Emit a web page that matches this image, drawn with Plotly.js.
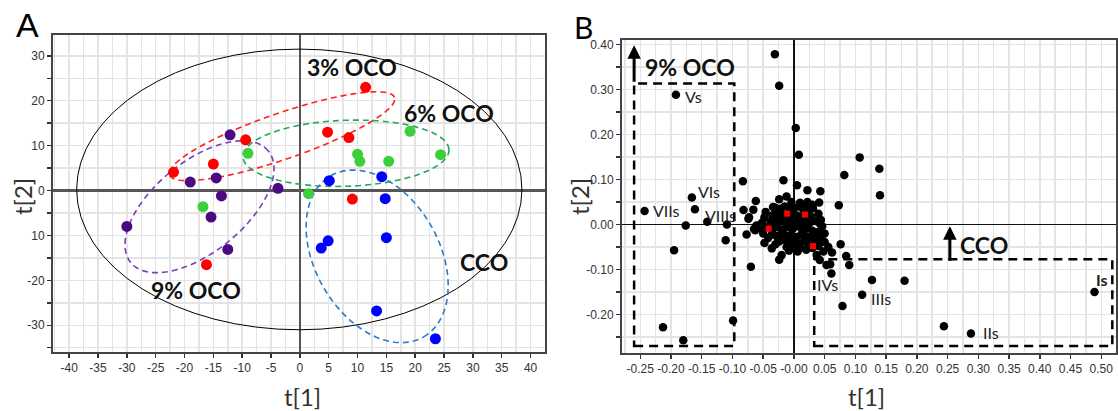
<!DOCTYPE html>
<html>
<head>
<meta charset="utf-8">
<script src="https://cdn.plot.ly/plotly-3.0.1.min.js"></script>
<style>
  html, body { margin: 0; padding: 0; background: #fff; }
  #chart { width: 1118px; height: 411px; }
</style>
</head>
<body>
<div id="chart"></div>
<script>
// ---- Panel A: score plot (t[1] vs t[2]) by oil group ----
const oco3X = [11.4, 4.8, 8.5, 9.1, -21.9, -15.0, -9.4, -16.2];
const oco3Y = [23.0, 13.0, 11.8, -1.9, 4.1, 5.9, 11.3, -16.5];
const oco6X = [19.1, 24.4, 10.0, 10.4, 15.4, 1.5, -9.0, -16.8];
const oco6Y = [13.2, 8.0, 8.1, 6.5, 6.5, -0.7, 8.3, -3.6];
const ccoX  = [5.1, 14.2, 14.8, 4.9, 3.7, 15.0, 13.3, 23.5];
const ccoY  = [2.2, 3.1, -1.8, -11.2, -12.8, -10.5, -26.8, -33.0];
const oco9X = [-12.1, -19.0, -14.5, -13.6, -15.4, -30.0, -12.5, -3.8];
const oco9Y = [12.4, 1.9, 2.8, -1.2, -5.9, -8.0, -13.1, 0.5];

const scoreXTicks = [-40, -35, -30, -25, -20, -15, -10, -5, 0, 5, 10, 15, 20, 25, 30, 35, 40];
const scoreXText  = ['-40','-35','-30','-25','-20','-15','-10','-5','0','5','10','15','20','25','30','35','40'];
const scoreYTicks = [-30, -20, -10, 0, 10, 20, 30];
const scoreYText  = ['-30', '-20', '10', '0', '10', '20', '30'];

// ---- Panel B: loading plot ----
const loadX = [
  -0.031, -0.024, 0.003, 0.008, -0.083, -0.017, 0.005, 0.022, 0.043, -0.062, -0.024, -0.012,
  0.022, 0.041, 0.073, 0.107, 0.082, 0.139, 0.140, -0.082, -0.066, -0.073, -0.109, -0.111,
  -0.077, -0.065, -0.048, -0.036, -0.020, -0.024, -0.070, -0.031, 0.018, 0.031, 0.042, 0.037,
  0.050, 0.076, 0.048, 0.085, 0.090, 0.127, 0.042, 0.053, 0.037, -0.141, -0.176, -0.195,
  -0.213, -0.180, -0.099, -0.061, 0.059, 0.180, 0.079, 0.244, -0.063, -0.074,
  -0.030, -0.022, -0.015, -0.008, 0.000, 0.008, 0.015, 0.024,
  -0.035, -0.027, -0.018, -0.010, -0.003, 0.005, 0.012, 0.020, 0.028,
  -0.038, -0.030, -0.022, -0.014, -0.006, 0.002, 0.010, 0.018, 0.026, 0.034,
  -0.044, -0.034, -0.026, -0.018, -0.010, -0.002, 0.006, 0.014, 0.022, 0.030,
  -0.036, -0.028, -0.020, -0.012, -0.004, 0.004, 0.012, 0.020, 0.028, 0.036,
  -0.024, -0.016, -0.008, 0.000, 0.008, 0.016, 0.024, 0.034,
  -0.012, -0.002, 0.010, 0.020, 0.030, 0.040,
  -0.048, -0.052, -0.056, -0.046, 0.040, 0.044, 0.046, 0.040,
  -0.034, -0.004, 0.010, 0.030, -0.050, -0.042, -0.030, 0.044, 0.050, 0.056, 0.062, 0.006, -0.008
];
const loadY = [
  0.378, 0.308, 0.214, 0.155, 0.096, 0.098, 0.087, 0.076, 0.074, 0.052, 0.056, 0.062,
  0.050, 0.049, 0.043, 0.149, 0.110, 0.124, 0.065, 0.032, 0.033, 0.016, 0.000, -0.035,
  -0.022, -0.010, -0.041, -0.053, -0.068, -0.078, -0.094, 0.038, 0.039, 0.036, 0.002, -0.022,
  -0.039, -0.044, -0.060, -0.070, -0.090, -0.123, -0.079, -0.090, -0.068, 0.006, -0.002, -0.057,
  -0.228, -0.257, -0.213, -0.002, -0.088, -0.125, -0.181, -0.226, -0.013, 0.013,
  0.030, 0.035, 0.040, 0.038, 0.036, 0.040, 0.034, 0.030,
  0.020, 0.016, 0.022, 0.018, 0.022, 0.020, 0.016, 0.012, 0.018,
  0.006, 0.002, 0.008, 0.004, 0.008, 0.004, 0.006, 0.000, 0.004, 0.008,
  -0.006, -0.010, -0.006, -0.012, -0.006, -0.010, -0.004, -0.012, -0.008, -0.014,
  -0.022, -0.026, -0.020, -0.026, -0.022, -0.028, -0.022, -0.026, -0.030, -0.024,
  -0.038, -0.034, -0.040, -0.036, -0.042, -0.038, -0.044, -0.040,
  -0.050, -0.048, -0.052, -0.056, -0.052, -0.048,
  0.016, 0.004, -0.008, 0.028, 0.024, 0.010, -0.004, -0.016,
  0.039, 0.050, 0.048, 0.044, -0.020, -0.030, -0.044, -0.030, -0.020, -0.050, -0.062, -0.060, -0.058
];
// named loadings
const namedLabels = ['<b>Is</b>', 'IIs', 'IIIs', 'IVs', 'Vs', 'VIs', 'VIIs', 'VIIIs'];
const namedX = [0.489, 0.288, 0.111, 0.061, -0.192, -0.166, -0.243, -0.161];
const namedY = [-0.150, -0.242, -0.156, -0.109, 0.288, 0.060, 0.030, 0.034];
// highlighted loadings (red squares)
const hiX = [-0.041, -0.011, 0.018, 0.031];
const hiY = [-0.009, 0.024, 0.022, -0.048];

const loadXTicks = [-0.25, -0.20, -0.15, -0.10, -0.05, 0, 0.05, 0.10, 0.15, 0.20, 0.25, 0.30, 0.35, 0.40, 0.45, 0.50];
const loadXText  = ['-0.25','-0.20','-0.15','-0.10','-0.05','-0.00','0.05','0.10','0.15','0.20','0.25','0.30','0.35','0.40','0.45','0.50'];
const loadYTicks = [-0.20, -0.10, 0, 0.10, 0.20, 0.30, 0.40];
const loadYText  = ['-0.20','-0.10','0.00','0.10','0.20','0.30','0.40'];

// ---- geometry ----
const W = 1118, H = 411;
const boxA = {l: 53, r: 545, t: 35, b: 352};
const boxB = {l: 622, r: 1116, t: 40, b: 353};
const rangeAX = [-42.8, 42.5], rangeAY = [-35.95, 34.64];
const rangeBX = [-0.2797, 0.524], rangeBY = [-0.2853, 0.4096];
const pxA = {
  x: (boxA.r - boxA.l) / (rangeAX[1] - rangeAX[0]),
  y: (boxA.b - boxA.t) / (rangeAY[1] - rangeAY[0])
};

// group ellipses: centre in data units, semi-axes in px, tilt in degrees
const groupEllipses = [
  {cx: -3.1, cy: 12.1, a: 119, b: 23, ang: 19, color: '#ff2020'},
  {cx: 8.0, cy: 8.3, a: 103, b: 33, ang: 2, color: '#1fa85a'},
  {cx: -17.4, cy: -3.6, a: 88.6, b: 45.3, ang: 39, color: '#7a3fb5'},
  {cx: 13.4, cy: -14.65, a: 93, b: 62, ang: -60, color: '#2a7ac8'}
];

function ellipsePath(e) {
  const th = e.ang * Math.PI / 180;
  let d = '';
  for (let i = 0; i <= 120; i++) {
    const t = 2 * Math.PI * i / 120;
    const dx = e.a * Math.cos(t) * Math.cos(th) - e.b * Math.sin(t) * Math.sin(th);
    const dy = e.a * Math.cos(t) * Math.sin(th) + e.b * Math.sin(t) * Math.cos(th);
    d += (i ? 'L' : 'M') + (e.cx + dx / pxA.x).toFixed(4) + ',' + (e.cy + dy / pxA.y).toFixed(4);
  }
  return d + 'Z';
}

const tickFont = {family: '"Liberation Sans Narrow", "Arial Narrow", "Liberation Sans", Arial, sans-serif', size: 12, color: '#333'};
const grid = '#e4e4e4';

const traces = [
  {x: oco3X, y: oco3Y, name: '3% OCO', type: 'scatter', mode: 'markers', xaxis: 'x', yaxis: 'y',
   marker: {color: '#ff0000', size: 11}},
  {x: oco6X, y: oco6Y, name: '6% OCO', type: 'scatter', mode: 'markers', xaxis: 'x', yaxis: 'y',
   marker: {color: '#3ccf3c', size: 11}},
  {x: ccoX, y: ccoY, name: 'CCO', type: 'scatter', mode: 'markers', xaxis: 'x', yaxis: 'y',
   marker: {color: '#0000ff', size: 11}},
  {x: oco9X, y: oco9Y, name: '9% OCO', type: 'scatter', mode: 'markers', xaxis: 'x', yaxis: 'y',
   marker: {color: '#4b0a82', size: 11}},
  {x: loadX, y: loadY, type: 'scatter', mode: 'markers', xaxis: 'x2', yaxis: 'y2',
   marker: {color: '#000', size: 8.5}},
  {x: namedX, y: namedY, type: 'scatter', mode: 'markers', xaxis: 'x2', yaxis: 'y2',
   marker: {color: '#000', size: 8.5}},
  {x: hiX, y: hiY, type: 'scatter', mode: 'markers', xaxis: 'x2', yaxis: 'y2',
   marker: {color: '#ff0000', size: 6, symbol: 'square'}}
];

const shapes = [
  // Hotelling ellipse
  {type: 'circle', xref: 'x', yref: 'y', x0: -38.7, x1: 38.5, y0: -31.0, y1: 31.5,
   line: {color: '#000', width: 1}, layer: 'between'}
];
groupEllipses.forEach(e => shapes.push({
  type: 'path', xref: 'x', yref: 'y', path: ellipsePath(e), layer: 'between',
  line: {color: e.color, width: 1.6, dash: '6px,4px'}
}));
// selection boxes on the loading plot
shapes.push({type: 'rect', xref: 'x2', yref: 'y2', x0: -0.260, x1: -0.097, y0: -0.270, y1: 0.313,
  line: {color: '#000', width: 2.5, dash: '9px,6px'}});
shapes.push({type: 'rect', xref: 'x2', yref: 'y2', x0: 0.033, x1: 0.518, y0: -0.270, y1: -0.077,
  line: {color: '#000', width: 2.5, dash: '9px,6px'}});

const labelFont = {family: 'Lato, "Open Sans", sans-serif', size: 23, color: '#111'};
const titleFont = {family: 'Lato, "Open Sans", sans-serif', size: 24, color: '#333'};
const pointFont = {family: 'Lato, "Open Sans", sans-serif', size: 16, color: '#222'};
function paperNote(text, px, py, font, extra) {
  return Object.assign({xref: 'paper', yref: 'paper', x: px / W, y: 1 - py / H,
    xanchor: 'center', yanchor: 'middle', showarrow: false, text: text, font: font}, extra || {});
}

// label placement next to each named loading (pixel offsets)
const namedPlacement = [
  {xanchor: 'left', xshift: 1, yshift: 13},
  {xanchor: 'left', xshift: 11, yshift: 1},
  {xanchor: 'left', xshift: 8, yshift: -4},
  {xanchor: 'center', xshift: -4, yshift: -11},
  {xanchor: 'left', xshift: 8, yshift: -2},
  {xanchor: 'left', xshift: 5, yshift: 6},
  {xanchor: 'left', xshift: 7, yshift: 0},
  {xanchor: 'left', xshift: 9, yshift: -6}
];

const annotations = [
  paperNote('A', 27, 25, {family: '"Liberation Sans", Arial, sans-serif', size: 34, color: '#000'}),
  paperNote('B', 583, 27, {family: 'Lato, "Open Sans", sans-serif', size: 30, color: '#000'}),
  paperNote('t[2]', 22, 197, titleFont, {textangle: -90}),
  paperNote('t[1]', 302, 396, titleFont),
  paperNote('t[2]', 579, 197, titleFont, {textangle: -90}),
  paperNote('t[1]', 866, 396, titleFont),
  {xref: 'x', yref: 'y', x: 9.0, y: 27.6, text: '<b>3% OCO</b>', showarrow: false, font: labelFont},
  {xref: 'x', yref: 'y', x: 25.8, y: 17.3, text: '<b>6% OCO</b>', showarrow: false, font: labelFont},
  {xref: 'x', yref: 'y', x: -18.0, y: -22.1, text: '<b>9% OCO</b>', showarrow: false, font: labelFont},
  {xref: 'x', yref: 'y', x: 31.9, y: -15.9, text: '<b>CCO</b>', showarrow: false, font: labelFont},
  {xref: 'x2', yref: 'y2', x: -0.246, y: 0.350, xanchor: 'left', text: '<b>9% OCO</b>', showarrow: false, font: labelFont},
  {xref: 'x2', yref: 'y2', x: 0.267, y: -0.046, xanchor: 'left', text: '<b>CCO</b>', showarrow: false, font: labelFont},
  {xref: 'x2', yref: 'y2', x: -0.260, y: 0.398, ax: 0, ay: 38, text: '', showarrow: true,
   arrowhead: 2, arrowsize: 0.9, arrowwidth: 3, arrowcolor: '#000', standoff: 0},
  {xref: 'x2', yref: 'y2', x: 0.2537, y: -0.004, ax: 0, ay: 36, text: '', showarrow: true,
   arrowhead: 2, arrowsize: 0.9, arrowwidth: 3, arrowcolor: '#000', standoff: 0}
];
namedLabels.forEach((lab, i) => annotations.push(Object.assign({
  xref: 'x2', yref: 'y2', x: namedX[i], y: namedY[i], yanchor: 'middle',
  text: lab, showarrow: false, font: pointFont, borderpad: 0
}, namedPlacement[i])));

function axisBase(extra) {
  return Object.assign({
    showline: true, linecolor: '#444', linewidth: 2, mirror: true,
    ticks: 'outside', ticklen: 4, tickwidth: 1.5, tickcolor: '#333',
    showgrid: true, gridcolor: grid, gridwidth: 1.5,
    tickfont: tickFont, fixedrange: true, automargin: false
  }, extra);
}

const layout = {
  width: W, height: H,
  margin: {l: 0, r: 0, t: 0, b: 0},
  paper_bgcolor: '#fff', plot_bgcolor: '#fff',
  showlegend: false,
  xaxis: axisBase({
    domain: [boxA.l / W, boxA.r / W], range: rangeAX, anchor: 'y',
    tickmode: 'array', tickvals: scoreXTicks, ticktext: scoreXText,
    minor: {tickmode: 'linear', tick0: 0, dtick: 2.5, showgrid: true, gridcolor: grid, gridwidth: 1.5, ticks: ''},
    zeroline: true, zerolinecolor: '#555', zerolinewidth: 1.5
  }),
  yaxis: axisBase({
    domain: [(H - boxA.b) / H, (H - boxA.t) / H], range: rangeAY, anchor: 'x',
    tickmode: 'array', tickvals: scoreYTicks, ticktext: scoreYText,
    minor: {tickmode: 'linear', tick0: 0, dtick: 5, showgrid: true, gridcolor: grid, gridwidth: 1.5,
            ticks: 'outside', ticklen: 4, tickwidth: 1.5, tickcolor: '#333'},
    zeroline: true, zerolinecolor: '#555', zerolinewidth: 2.2
  }),
  xaxis2: axisBase({
    domain: [boxB.l / W, boxB.r / W], range: rangeBX, anchor: 'y2',
    tickmode: 'array', tickvals: loadXTicks, ticktext: loadXText,
    minor: {tickmode: 'linear', tick0: 0, dtick: 0.025, showgrid: true, gridcolor: grid, gridwidth: 1.5, ticks: ''},
    zeroline: true, zerolinecolor: '#111', zerolinewidth: 1.2
  }),
  yaxis2: axisBase({
    domain: [(H - boxB.b) / H, (H - boxB.t) / H], range: rangeBY, anchor: 'x2',
    tickmode: 'array', tickvals: loadYTicks, ticktext: loadYText,
    minor: {tickmode: 'linear', tick0: 0, dtick: 0.05, showgrid: true, gridcolor: grid, gridwidth: 1.5,
            ticks: 'outside', ticklen: 4, tickwidth: 1.5, tickcolor: '#333'},
    zeroline: true, zerolinecolor: '#111', zerolinewidth: 1.2
  }),
  shapes: shapes,
  annotations: annotations
};

Plotly.newPlot('chart', traces, layout, {staticPlot: true, displayModeBar: false});
</script>
</body>
</html>
